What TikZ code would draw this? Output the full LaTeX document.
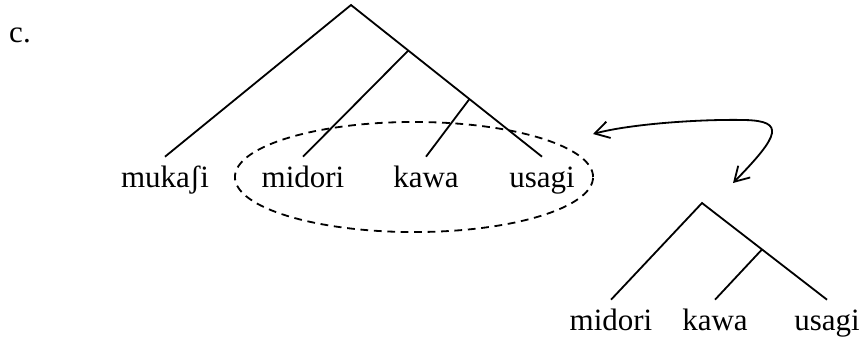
\documentclass[tikz,border=0pt]{standalone}
\usepackage{fontspec}
\setmainfont{Liberation Serif}
\usetikzlibrary{arrows.meta, calc, shapes.geometric}
\begin{document}
\begin{tikzpicture}[
  x=0.387pt, y=-0.387pt,
  word/.style={font=\fontsize{12}{14}\selectfont, anchor=base, text height=8.2pt, text depth=2.5pt},
  branch/.style={line width=0.7pt},
  grp/.style={draw, ellipse, dash pattern=on 3pt off 2.2pt, line width=0.7pt, minimum width=138.6pt, minimum height=42.6pt},
  xarr/.style={{Straight Barb[length=5.5pt,width=6.5pt]}-{Straight Barb[length=5.5pt,width=6.5pt]}, line width=0.7pt}
]
\useasboundingbox (0,0) rectangle (862,338);

\node[word] (lbl) at (20,42) {c.};

\node[word] (mukasi) at (165,187) {mukaʃi};
\node[word] (midori) at (303,187) {midori};
\node[word] (kawa) at (426,187) {kawa};
\node[word] (usagi) at (542,187) {usagi};

\coordinate (r1) at (351,5);
\coordinate (n1) at ($(r1)!0.30!(usagi.north)$);
\coordinate (n2) at ($(r1)!0.62!(usagi.north)$);
\draw[branch] (mukasi.north) -- (r1) -- (usagi.north);
\draw[branch] (n1) -- (midori.north);
\draw[branch] (n2) -- (kawa.north);

\node[grp] (grp) at (414,177) {};

\node[word] (midori2) at (611,330) {midori};
\node[word] (kawa2) at (715,330) {kawa};
\node[word] (usagi2) at (827,330) {usagi};

\coordinate (r2) at (702,203);
\coordinate (n3) at ($(r2)!0.48!(usagi2.north)$);
\draw[branch] (midori2.north) -- (r2) -- (usagi2.north);
\draw[branch] (n3) -- (kawa2.north);

\coordinate (a1) at (593,134);
\coordinate (a2) at (733,183);
\draw[xarr] (a1) .. controls (630,124) and (700,119) .. (745,120) .. controls (785,121) and (780,135) .. (a2);
\end{tikzpicture}
\end{document}
